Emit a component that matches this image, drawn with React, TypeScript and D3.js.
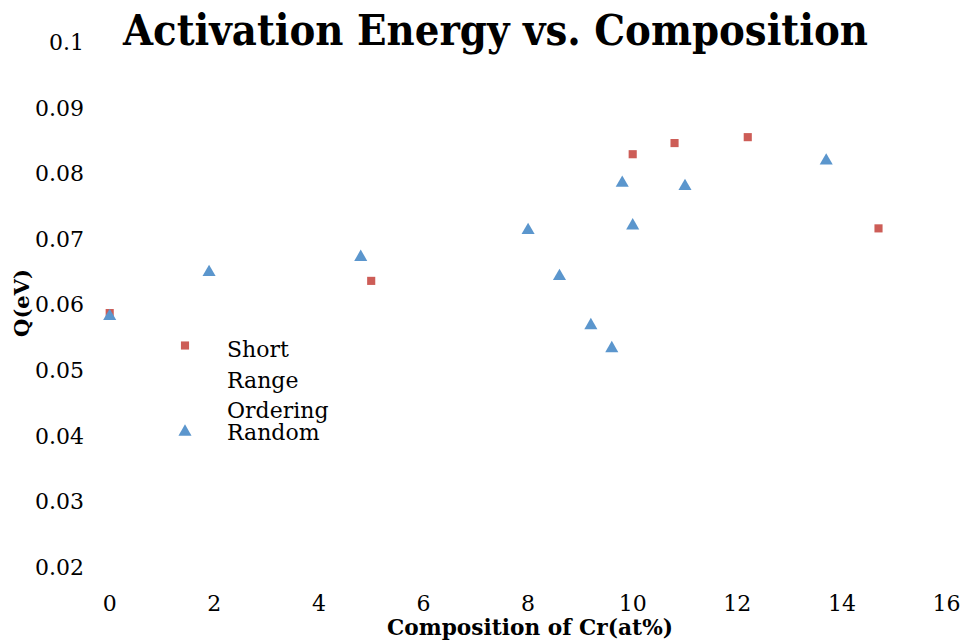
import React from "react";
import * as d3 from "d3";

// Activation energy Q (eV) against Cr content (at%)
const shortRangeX = [0, 5.0, 10.0, 10.8, 12.2, 14.7];
const shortRangeY = [0.0587, 0.0636, 0.0829, 0.0846, 0.0855, 0.0716];

const randomX = [0, 1.9, 4.8, 8.0, 8.6, 9.2, 9.6, 9.8, 10.0, 11.0, 13.7];
const randomY = [0.0585, 0.0652, 0.0675, 0.0716, 0.0646, 0.0571, 0.0536, 0.0788, 0.0723, 0.0783, 0.0822];

const xTicks = [0, 2, 4, 6, 8, 10, 12, 14, 16];
const yTicks = [0.02, 0.03, 0.04, 0.05, 0.06, 0.07, 0.08, 0.09, 0.1];

const legendShort = ["Short", "Range", "Ordering"];
const legendRandom = "Random";

const W = 967;
const H = 643;
const RED = "#CD5D57";
const BLUE = "#5B96CD";
const FONT = "'DejaVu Serif', 'Liberation Serif', serif";

export default function App() {
  const x = d3.scaleLinear().domain([0, 16]).range([109.7, 946.5]);
  const y = d3.scaleLinear().domain([0.02, 0.1]).range([567, 42]);
  const fmt = d3.format("~g");

  const squarePath = d3.symbol(d3.symbolSquare, 66)() as string;
  const triArea = 74;
  const triPath = d3.symbol(d3.symbolTriangle, triArea)() as string;
  // shift so the triangle's bounding box (not its centroid) sits on the point
  const triH = Math.sqrt((4 * triArea) / Math.sqrt(3)) * (Math.sqrt(3) / 2);
  const triShift = triH / 6;

  return (
    <svg
      width={W}
      height={H}
      style={{ position: "absolute", left: 0, top: 0, background: "#fff" }}
    >
      <rect width={W} height={H} fill="#fff" />

      {/* title */}
      <text
        x={123}
        y={45}
        fontFamily={FONT}
        fontWeight="bold"
        fontSize={42}
        textLength={745}
        lengthAdjust="spacingAndGlyphs"
        fill="#000"
      >
        Activation Energy vs. Composition
      </text>

      {/* y tick labels */}
      {yTicks.map((t) => (
        <text
          key={"y" + t}
          x={84}
          y={y(t)}
          dy="0.36em"
          textAnchor="end"
          fontFamily={FONT}
          fontSize={22}
          fill="#000"
        >
          {fmt(t)}
        </text>
      ))}

      {/* x tick labels */}
      {xTicks.map((t) => (
        <text
          key={"x" + t}
          x={x(t)}
          y={611}
          textAnchor="middle"
          fontFamily={FONT}
          fontSize={22}
          fill="#000"
        >
          {fmt(t)}
        </text>
      ))}

      {/* axis titles */}
      <text
        x={387}
        y={635}
        fontFamily={FONT}
        fontWeight="bold"
        fontSize={23}
        textLength={286}
        lengthAdjust="spacingAndGlyphs"
        fill="#000"
      >
        Composition of Cr(at%)
      </text>
      <text
        transform={`translate(29,303) rotate(-90)`}
        textAnchor="middle"
        fontFamily={FONT}
        fontWeight="bold"
        fontSize={21}
        fill="#000"
      >
        Q(eV)
      </text>

      {/* Short Range Ordering series */}
      {shortRangeX.map((v, i) => (
        <path
          key={"s" + i}
          d={squarePath}
          transform={`translate(${x(v)},${y(shortRangeY[i])})`}
          fill={RED}
        />
      ))}

      {/* Random series */}
      {randomX.map((v, i) => (
        <path
          key={"r" + i}
          d={triPath}
          transform={`translate(${x(v)},${y(randomY[i]) + triShift})`}
          fill={BLUE}
        />
      ))}

      {/* legend */}
      <path d={squarePath} transform="translate(185,345.5)" fill={RED} />
      {legendShort.map((line, i) => (
        <text
          key={"l" + i}
          x={227}
          y={357 + i * 30.5}
          fontFamily={FONT}
          fontSize={22}
          fill="#000"
        >
          {line}
        </text>
      ))}
      <path d={triPath} transform={`translate(185,${430 + triShift})`} fill={BLUE} />
      <text x={227} y={440} fontFamily={FONT} fontSize={22} fill="#000">
        {legendRandom}
      </text>
    </svg>
  );
}
